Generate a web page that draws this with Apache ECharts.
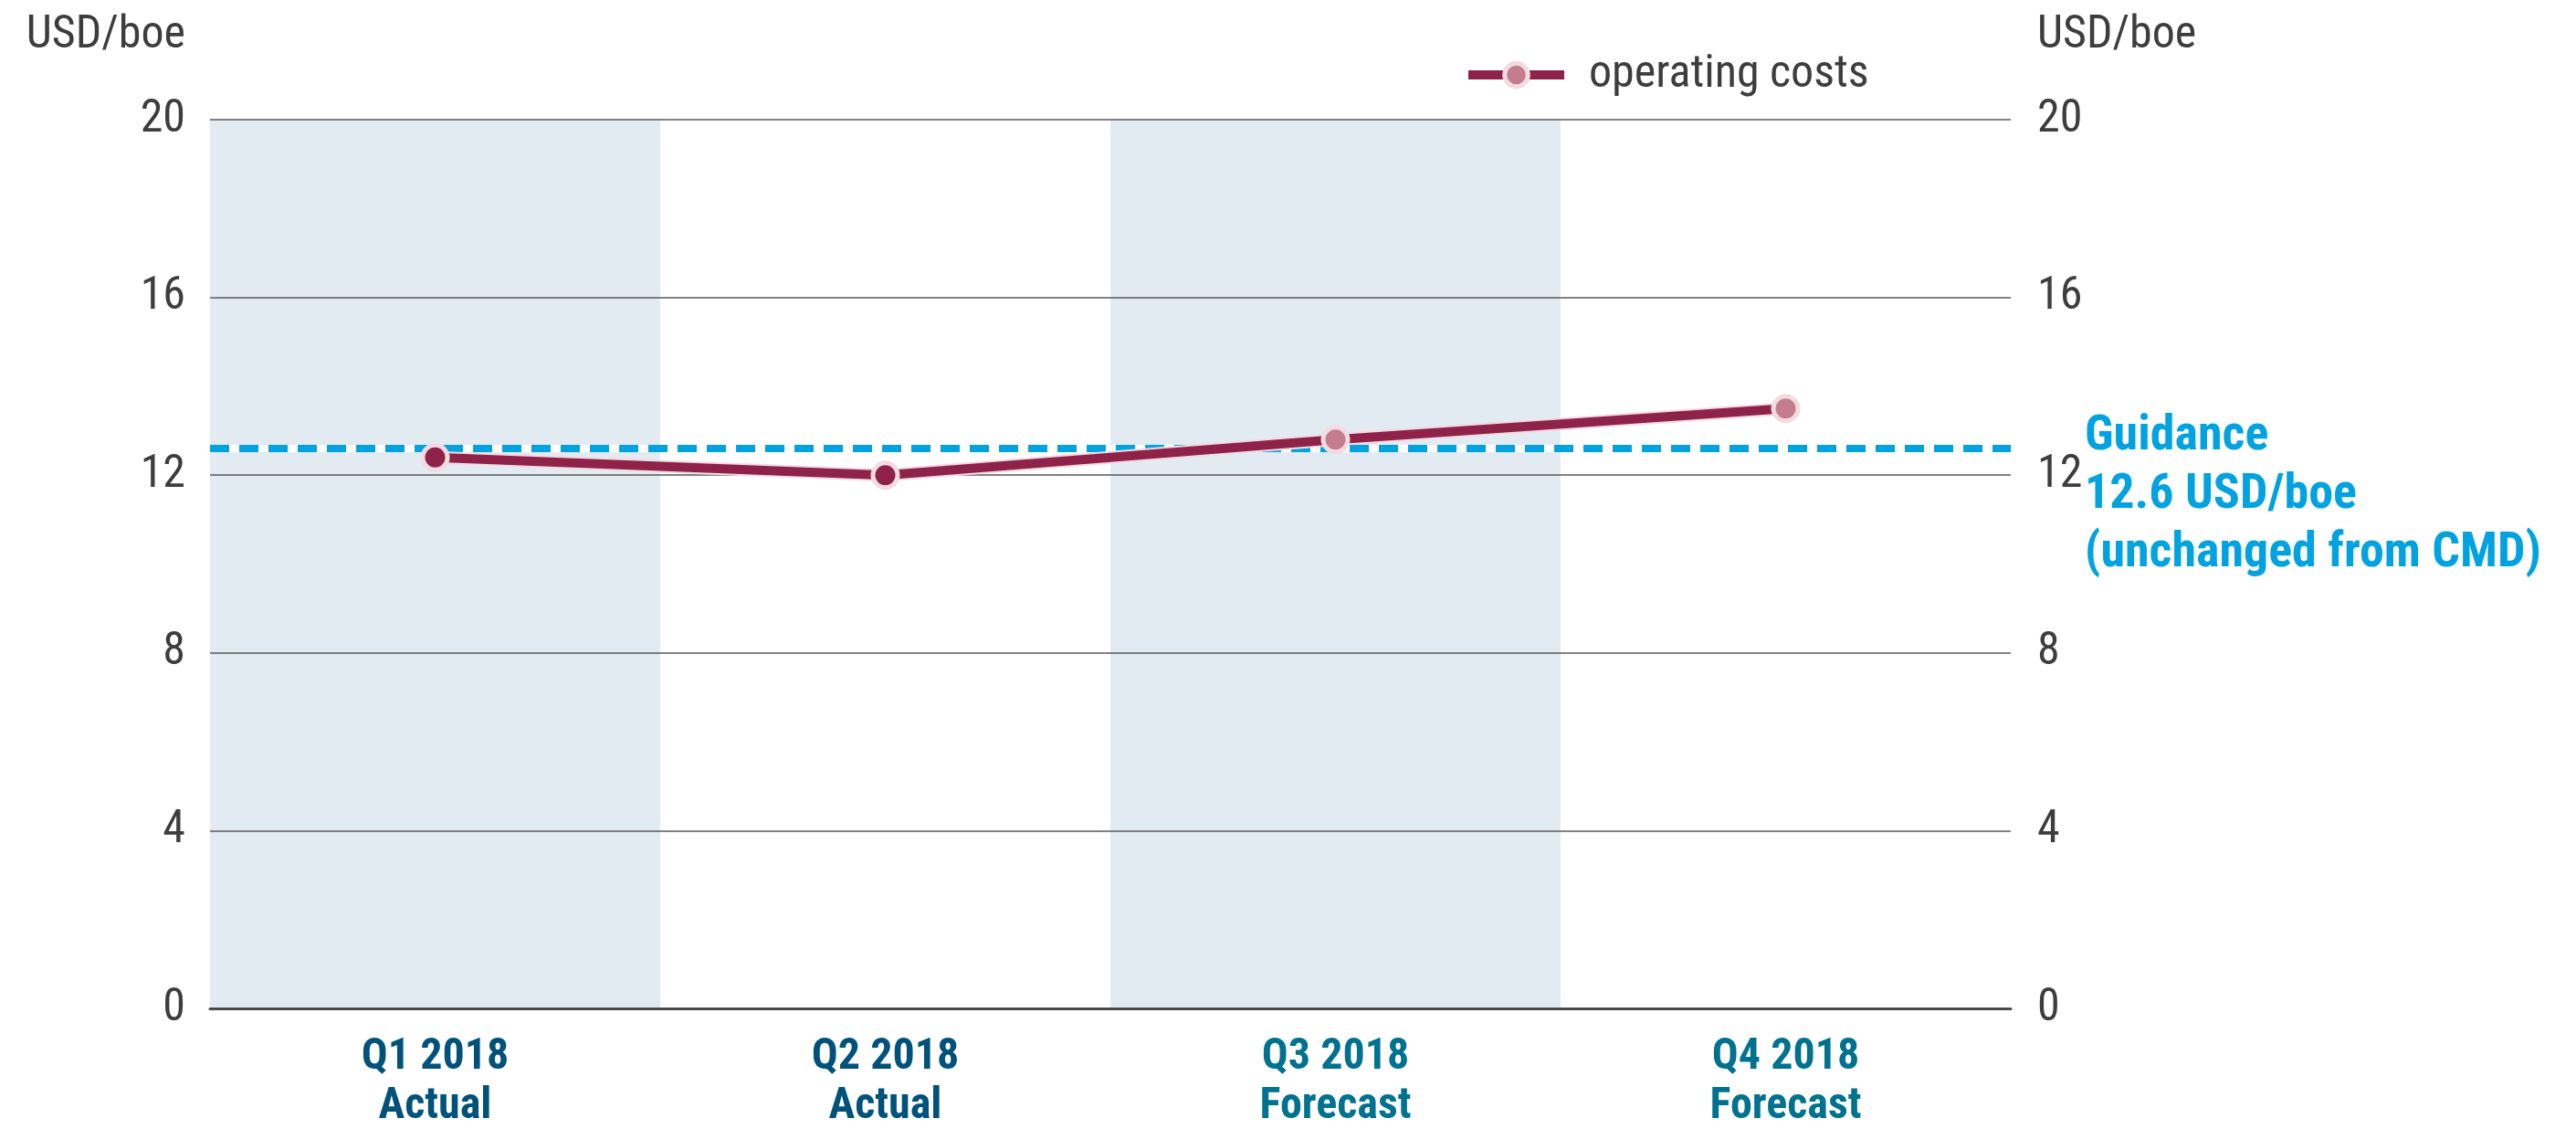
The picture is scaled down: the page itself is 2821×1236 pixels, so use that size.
<!DOCTYPE html>
<html>
<head>
<meta charset="utf-8">
<script src="https://cdn.jsdelivr.net/npm/echarts@6/dist/echarts.min.js"></script>
<style>
html,body{margin:0;padding:0;background:#fff;}
#chart{width:2821px;height:1236px;}
</style>
</head>
<body>
<div id="chart"></div>
<script>
const categories = ['Q1 2018', 'Q2 2018', 'Q3 2018', 'Q4 2018'];
const periodTypes = ['Actual', 'Actual', 'Forecast', 'Forecast'];
const operatingCosts = [12.4, 12.0, 12.8, 13.5];
const guidance = 12.6;
const shadeBands = [20, null, 20, null];
const yTicks = [0, 4, 8, 12, 16, 20];
const seriesName = 'operating costs';
const unitLabel = 'USD/boe';
const guidanceLines = ['Guidance', '12.6 USD/boe', '(unchanged from CMD)'];

const FONT = "'Roboto Condensed', 'DejaVu Sans Condensed', sans-serif";
const TXT = '#3d3d3d';
const DARK = '#8e2249';
const LIGHT = '#c47d8f';
const RING = '#f3dbe2';
const BLUE = '#00a3e0';

const chart = echarts.init(document.getElementById('chart'));

const yAxisBase = {
  type: 'value', min: yTicks[0], max: yTicks[yTicks.length - 1], interval: yTicks[1] - yTicks[0],
  axisLine: { show: false }, axisTick: { show: false },
  name: unitLabel, nameLocation: 'end', nameGap: 92,
};

chart.setOption({
  animation: false,
  textStyle: { fontFamily: FONT },
  grid: { left: 230, right: 619, top: 131, bottom: 128 },
  legend: {
    data: [seriesName], left: 1598, top: 52, itemWidth: 105, itemHeight: 32,
    lineStyle: { color: DARK, width: 10 },
    itemStyle: { color: LIGHT, borderColor: RING, borderWidth: 5 },
    textStyle: { color: TXT, fontFamily: FONT, fontSize: 50, padding: [0, 0, 0, 22] }
  },
  xAxis: {
    type: 'category', data: categories, boundaryGap: true,
    axisLine: { show: true, lineStyle: { color: '#4a4a4a', width: 3 } },
    axisTick: { show: false },
    axisLabel: {
      margin: 27, interval: 0,
      formatter: function (v, i) {
        const k = periodTypes[i] === 'Actual' ? 'a' : 'f';
        return '{' + k + '|' + v + '}\n{' + k + '|' + periodTypes[i] + '}';
      },
      rich: {
        a: { color: '#01527a', fontFamily: FONT, fontWeight: 'bold', fontSize: 48, lineHeight: 54 },
        f: { color: '#00718f', fontFamily: FONT, fontWeight: 'bold', fontSize: 48, lineHeight: 54 }
      }
    }
  },
  yAxis: [
    Object.assign({}, yAxisBase, {
      position: 'left',
      axisLabel: { color: TXT, fontFamily: FONT, fontSize: 50, margin: 27 },
      splitLine: { show: true, lineStyle: { color: '#5a5a5a', width: 1.5 } },
      nameTextStyle: { color: TXT, fontFamily: FONT, fontSize: 50, align: 'right', verticalAlign: 'middle', padding: [0, 27, 0, 0] }
    }),
    Object.assign({}, yAxisBase, {
      position: 'right',
      axisLabel: { color: TXT, fontFamily: FONT, fontSize: 50, margin: 29 },
      splitLine: { show: false },
      nameTextStyle: { color: TXT, fontFamily: FONT, fontSize: 50, align: 'left', verticalAlign: 'middle', padding: [0, 0, 0, 29] }
    })
  ],
  series: [
    {
      name: 'shade', type: 'bar', data: shadeBands, barWidth: '100%', z: -1, silent: true,
      itemStyle: { color: '#e2ebf2' }
    },
    {
      name: 'halo', type: 'line', data: operatingCosts, symbol: 'none', silent: true, z: 3,
      lineStyle: { color: RING, width: 14 }
    },
    {
      name: seriesName, type: 'line', data: operatingCosts.map(function (v, i) {
        return { value: v, itemStyle: { color: periodTypes[i] === 'Actual' ? DARK : LIGHT } };
      }),
      z: 4, symbol: 'circle', symbolSize: 27,
      lineStyle: { color: DARK, width: 10 },
      itemStyle: { color: LIGHT, borderColor: RING, borderWidth: 5 },
      markLine: {
        silent: true, symbol: 'none', label: { show: false }, z: 2,
        data: [
          { yAxis: guidance, lineStyle: { color: '#ffffff', width: 8, type: 'solid' } },
          { yAxis: guidance, lineStyle: { color: BLUE, width: 8, type: [21, 11] } }
        ]
      }
    }
  ],
  graphic: [{
    type: 'text', left: 2283, top: 446,
    style: {
      text: guidanceLines.join('\n'), fill: BLUE, font: 'bold 54px ' + FONT, lineHeight: 64
    }
  }]
});
</script>
</body>
</html>
